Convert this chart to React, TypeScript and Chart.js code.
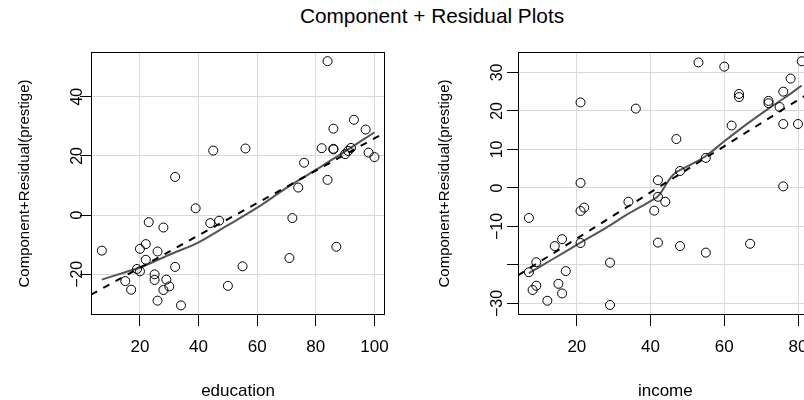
import React, { useEffect, useRef } from "react";
import { Chart, registerables } from "chart.js";

Chart.register(...registerables);

// ---------- data ----------
const EDUCATION = [
  7, 39, 23, 28, 22, 20, 26, 22, 32, 19, 20, 25, 25, 29, 15, 30, 17, 28, 26, 34,
  32, 45, 47, 44, 50, 55, 56, 71, 72, 74, 87,
  84, 93, 86, 97, 82, 86, 86, 92, 91, 90, 98, 100, 76, 84,
];
const EDU_PARTIAL = [
  -12.0, 2.3, -2.4, -4.2, -9.8, -11.4, -12.3, -15.1, -17.5, -18.2, -19.0, -20.0, -21.9, -21.8, -22.3, -24.1, -25.2, -25.3, -28.9, -30.5,
  12.9, 21.8, -1.9, -2.7, -23.9, -17.3, 22.5, -14.5, -1.0, 9.3, -10.7,
  52.0, 32.2, 29.2, 28.9, 22.6, 22.4, 22.2, 22.7, 21.7, 20.6, 21.1, 19.6, 17.7, 11.9,
];
const EDU_LINE_X = [3.3, 103.6];
const EDU_LINE_Y = [-26.9, 27.9];
const EDU_SMOOTH_X = [7, 15, 20, 30, 40, 50, 60, 70, 80, 90, 100];
const EDU_SMOOTH_Y = [-21.8, -19.3, -17.7, -13.4, -9.2, -3.4, 2.5, 9.2, 15.3, 21.5, 28.0];
const EDU_TICKS_X = [20, 40, 60, 80, 100];
const EDU_TICKS_Y = [-20, 0, 20, 40];

const INCOME = [
  7, 21, 21, 22, 16, 14, 21, 9, 7, 17, 9, 8, 15, 16, 12,
  21, 29, 29, 34, 36, 41, 42, 42, 42, 44, 47, 48, 48, 53, 55, 55, 67, 76,
  60, 81, 78, 64, 64, 76, 72, 72, 75, 62, 76, 80,
];
const INC_PARTIAL = [
  -7.8, 1.3, -6.0, -5.1, -13.3, -15.1, -14.3, -19.3, -21.9, -21.6, -25.4, -26.5, -24.9, -27.4, -29.3,
  22.2, -19.4, -30.4, -3.6, 20.6, -5.9, 2.0, -2.3, -14.2, -3.6, 12.7, 4.4, -15.1, 32.6, 7.8, -16.8, -14.5, 0.4,
  31.5, 32.9, 28.4, 24.4, 23.6, 25.0, 22.6, 22.0, 21.0, 16.2, 16.6, 16.6,
];
const INC_LINE_X = [4.04, 83.96];
const INC_LINE_Y = [-22.7, 25.2];
const INC_SMOOTH_X = [7, 14, 21, 28, 34, 40, 42, 46, 50, 55, 60, 66, 72, 77, 81];
const INC_SMOOTH_Y = [-22.1, -18.2, -14.2, -10.3, -6.7, -3.4, -2.2, 3.3, 5.6, 8.3, 12.1, 16.5, 20.6, 23.8, 26.6];
const INC_TICKS_X = [20, 40, 60, 80];
const INC_TICKS_Y = [-30, -20, -10, 0, 10, 20, 30];
const INC_HIDDEN_Y = [-20];

const MAIN_TITLE = "Component + Residual Plots";
const Y_TITLE = "Component+Residual(prestige)";

const FONT = '"Liberation Sans", Arial, Helvetica, sans-serif';

const fmt = (v: number) => (v < 0 ? "\u2212" + Math.abs(v) : String(v));

const boxPlugin = {
  id: "rbox",
  afterDraw(chart: any) {
    const { ctx, chartArea: a } = chart;
    ctx.save();
    ctx.strokeStyle = "#000";
    ctx.lineWidth = 1;
    const l = Math.round(a.left) + 0.5;
    const t = Math.round(a.top) + 0.5;
    const r = Math.round(a.right) - 0.5;
    const b = Math.round(a.bottom) - 0.5;
    ctx.strokeRect(l, t, r - l, b - t);
    ctx.restore();
  },
};

type PanelProps = {
  left: number;
  width: number;
  xs: number[];
  ys: number[];
  lineX: number[];
  lineY: number[];
  smoothX: number[];
  smoothY: number[];
  xMin: number;
  xMax: number;
  yMin: number;
  yMax: number;
  xTicks: number[];
  yTicks: number[];
  hiddenY: number[];
  xTitle: string;
  yAxisWidth: number;
  rightPad: number;
  yTickPad: number;
  yTitlePad: number;
};

function Panel(p: PanelProps) {
  const ref = useRef<HTMLCanvasElement | null>(null);
  useEffect(() => {
    if (!ref.current) return;
    const pts = p.xs.map((x, i) => ({ x, y: p.ys[i] }));
    const line = p.lineX.map((x, i) => ({ x, y: p.lineY[i] }));
    const smooth = p.smoothX.map((x, i) => ({ x, y: p.smoothY[i] }));
    const chart = new Chart(ref.current, {
      type: "scatter",
      data: {
        datasets: [
          {
            data: pts,
            pointStyle: "circle",
            pointRadius: 4.5,
            pointHoverRadius: 4.5,
            borderColor: "#000",
            backgroundColor: "rgba(0,0,0,0)",
            borderWidth: 1,
            showLine: false,
          },
          {
            data: line,
            showLine: true,
            pointRadius: 0,
            borderColor: "#000",
            borderWidth: 2,
            borderDash: [7, 7],
          },
          {
            data: smooth,
            showLine: true,
            pointRadius: 0,
            borderColor: "#555555",
            borderWidth: 2,
            cubicInterpolationMode: "monotone",
          },
        ],
      },
      options: {
        responsive: false,
        animation: false,
        events: [],
        layout: { padding: { top: 52, right: p.rightPad, bottom: 0, left: 0 } },
        plugins: { legend: { display: false }, tooltip: { enabled: false }, title: { display: false } },
        scales: {
          x: {
            type: "linear",
            min: p.xMin,
            max: p.xMax,
            afterBuildTicks: (s: any) => {
              s.ticks = p.xTicks.map((value) => ({ value }));
            },
            afterFit: (s: any) => {
              s.height = 85;
            },
            grid: { color: "#d9d9d9", lineWidth: 1, tickColor: "#000", tickLength: 11, drawTicks: true },
            border: { display: false },
            ticks: {
              padding: 11,
              color: "#000",
              font: { family: FONT, size: 17 },
              maxRotation: 0,
              minRotation: 0,
              autoSkip: false,
              callback: (v: any) => fmt(Number(v)),
            },
            title: {
              display: true,
              text: p.xTitle,
              color: "#000",
              font: { family: FONT, size: 17, lineHeight: 1 },
              padding: { top: 0, bottom: 0 },
            },
          },
          y: {
            type: "linear",
            min: p.yMin,
            max: p.yMax,
            afterBuildTicks: (s: any) => {
              s.ticks = p.yTicks.map((value) => ({ value }));
            },
            afterFit: (s: any) => {
              s.width = p.yAxisWidth;
            },
            grid: { color: "#d9d9d9", lineWidth: 1, tickColor: "#000", tickLength: 11, drawTicks: true },
            border: { display: false },
            ticks: {
              padding: p.yTickPad,
              color: "#000",
              crossAlign: "center",
              minRotation: 90,
              maxRotation: 90,
              autoSkip: false,
              font: { family: FONT, size: 16 },
              callback: (v: any) => (p.hiddenY.includes(Number(v)) ? "" : fmt(Number(v))),
            },
            title: {
              display: true,
              text: Y_TITLE,
              color: "#000",
              font: { family: FONT, size: 15, lineHeight: 1 },
              padding: { top: p.yTitlePad, bottom: 0 },
            },
          },
        },
      } as any,
      plugins: [boxPlugin],
    });
    return () => chart.destroy();
  }, []);
  return (
    <canvas
      ref={ref}
      width={p.width}
      height={400}
      style={{ position: "absolute", left: p.left, top: 0, width: p.width, height: 400 }}
    />
  );
}

export default function App() {
  return (
    <div
      style={{
        position: "fixed",
        left: 0,
        top: 0,
        width: 804,
        height: 400,
        overflow: "hidden",
        background: "#fff",
      }}
    >
      <div
        style={{
          position: "absolute",
          left: 0,
          top: 6,
          width: 864,
          textAlign: "center",
          fontFamily: FONT,
          fontSize: 20.8,
          lineHeight: "20.8px",
          color: "#000",
          whiteSpace: "nowrap",
        }}
      >
        {MAIN_TITLE}
      </div>
      <Panel
        left={0}
        width={402}
        xs={EDUCATION}
        ys={EDU_PARTIAL}
        lineX={EDU_LINE_X}
        lineY={EDU_LINE_Y}
        smoothX={EDU_SMOOTH_X}
        smoothY={EDU_SMOOTH_Y}
        xMin={3.3}
        xMax={103.6}
        yMin={-33.75}
        yMax={55.1}
        xTicks={EDU_TICKS_X}
        yTicks={EDU_TICKS_Y}
        hiddenY={[]}
        xTitle="education"
        yAxisWidth={91}
        rightPad={17}
        yTickPad={-11.3}
        yTitlePad={17.2}
      />
      <Panel
        left={420}
        width={420}
        xs={INCOME}
        ys={INC_PARTIAL}
        lineX={INC_LINE_X}
        lineY={INC_LINE_Y}
        smoothX={INC_SMOOTH_X}
        smoothY={INC_SMOOTH_Y}
        xMin={4.04}
        xMax={83.96}
        yMin={-33.0}
        yMax={35.3}
        xTicks={INC_TICKS_X}
        yTicks={INC_TICKS_Y}
        hiddenY={INC_HIDDEN_Y}
        xTitle="income"
        yAxisWidth={98}
        rightPad={27.4}
        yTickPad={-4.6}
        yTitlePad={17.7}
      />
    </div>
  );
}
